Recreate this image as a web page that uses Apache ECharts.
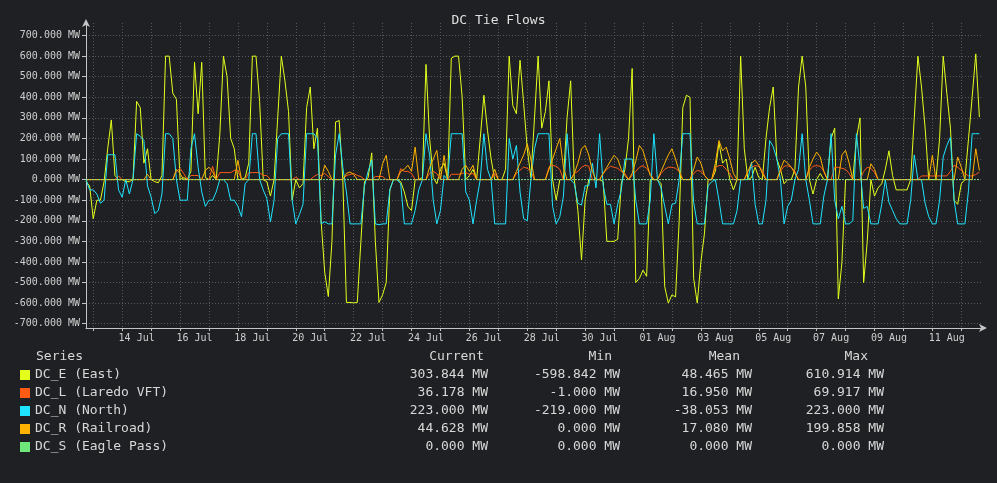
<!DOCTYPE html>
<html>
<head>
<meta charset="utf-8" />
<script src="https://cdn.jsdelivr.net/npm/echarts@6/dist/echarts.min.js"></script>
<style>
  html, body { margin: 0; padding: 0; background: #1f2023; }
  #main { width: 997px; height: 483px; }
</style>
</head>
<body>
<div id="main"></div>
<script>
// 3-hour samples from 12 Jul 18:00 to 12 Aug 15:00 (one row per day)
var east = [
  -10, -30,
  -190, -100, -100, -10, 150, 290, 20, 0,
  0, -10, -10, 0, 380, 350, 80, 150,
  0, -10, -15, 20, 600, 600, 420, 390,
  0, 10, 0, 40, 570, 320, 570, 10,
  0, 20, 0, 220, 600, 500, 200, 150,
  0, 0, 10, 80, 600, 600, 380, 0,
  -10, -80, 0, 300, 600, 480, 330, -100,
  0, -40, -20, 350, 450, 150, 250, -200,
  -450, -568, -300, 280, 287, 0, -597, -597,
  -598.842, -597, -300, -10, 10, 130, -300, -597,
  -560, -500, -50, 0, 0, -10, -60, -130,
  -150, 0, 0, 10, 560, 200, 10, -20,
  50, 80, 0, 590, 600, 600, 400, 0,
  20, 50, 0, 200, 410, 240, 100, 0,
  0, 0, 50, 600, 360, 320, 580, 370,
  150, 10, 300, 600, 250, 330, 480, 0,
  -100, 0, 0, 300, 480, 0, -150, -390,
  -100, 0, 0, 0, 0, -10, -300, -300,
  -300, -290, -20, 50, 200, 540, -500, -480,
  -440, -470, 0, 0, 0, -20, -520, -600,
  -560, -570, -200, 350, 410, 400, -480, -600,
  -400, -260, 0, 0, 40, 180, 80, 100,
  0, -50, 0, 600, 150, 0, 10, 60,
  10, 0, 200, 350, 450, 100, 50, -20,
  0, 0, 50, 450, 600, 450, 0, -70,
  0, 30, 0, 0, 200, 250, -580, -400,
  0, 0, 0, 200, 300, -500, -300, 0,
  -80, -40, -20, 50, 140, 20, -50, -50,
  -50, -50, 0, 300, 600, 450, 250, 0,
  0, 0, 200, 600, 420, 250, -100, -120,
  -20, 0, 200, 400, 610.914, 303.844
];
var laredo = [
  -1, 0,
  0, 0, 0, 0, 0, 0, 0, 18,
  0, 0, 0, 0, 0, 0, 0, 0,
  0, 0, 0, 0, 0, 0, 0, 40,
  55, 30, 0, 20, 20, 20, 0, 0,
  0, 65, 0, 34, 34, 34, 34, 45,
  45, 0, 0, 34, 34, 34, 34, 20,
  20, 0, 0, 0, 0, 0, 0, 0,
  12, 0, 0, 0, 0, 15, 25, 20,
  30, 15, 0, 0, 0, 0, 20, 25,
  30, 20, 15, 0, 0, 0, 15, 15,
  15, 0, 0, 0, 0, 53, 40, 40,
  30, 0, 0, 0, 0, 30, 40, 30,
  0, 0, 0, 26, 26, 26, 30, 35,
  25, 30, 0, 0, 0, 0, 0, 30,
  0, 0, 0, 0, 0, 30, 45, 61,
  55, 40, 0, 0, 0, 0, 60, 69,
  65, 50, 0, 0, 0, 30, 40, 60,
  69, 65, 0, 0, 0, 30, 50, 65,
  60, 55, 40, 30, 0, 20, 40, 60,
  68, 55, 30, 0, 0, 30, 50, 60,
  60, 55, 40, 0, 0, 0, 30, 45,
  40, 20, 0, 0, 60, 68, 68, 50,
  30, 0, 0, 0, 0, 40, 60, 68,
  65, 45, 0, 0, 0, 0, 40, 65,
  68, 60, 40, 0, 0, 0, 45, 65,
  68, 65, 40, 0, 0, 60, 60, 55,
  50, 30, 0, 0, 0, 40, 60, 55,
  35, 0, 0, 0, 0, 0, 0, 0,
  0, 0, 0, 0, 0, 18, 18, 18,
  18, 18, 18, 18, 18, 40, 69.917, 60,
  45, 30, 18, 18, 25, 36.178
];
var north = [
  0, -50,
  -50, -70, -115, -100, 121, 121, 121, -50,
  -85, 0, -70, 0, 223, 210, 190, -30,
  -85, -165, -150, -70, 223, 223, 200, 0,
  -100, -100, -100, 150, 223, 60, -60, -130,
  -100, -100, -60, 0, 0, -20, -100, -100,
  -130, -180, -20, 0, 223, 223, 0, -50,
  -92, -205, -100, 200, 223, 223, 223, -100,
  -215, -170, -120, 223, 223, 223, 200, -215,
  -205, -215, -215, 120, 223, 60, -60, -215,
  -215, -215, -215, -30, 40, 95, -215, -219,
  -215, -215, -50, 0, 0, -20, -215, -215,
  -215, -150, -50, 0, 223, 120, -100, -215,
  -150, 20, 0, 223, 223, 223, 223, -60,
  -100, -215, -100, 0, 223, 50, 0, -215,
  -215, -215, -215, 200, 100, 166, -60, -190,
  -200, 0, 150, 223, 223, 223, 223, -130,
  -215, -180, -80, 223, 0, -20, -115, -124,
  -30, -30, 80, -40, 223, -30, -120, -120,
  -215, -120, -50, 100, 100, 100, -100, -215,
  -215, -215, -100, 223, 0, -40, -130, -215,
  -120, -115, 0, 223, 223, 223, -110, -215,
  -215, -215, -30, -10, 0, -100, -215, -215,
  -215, -215, -150, 0, 0, 0, 85, -120,
  -215, -215, -100, 190, 160, 100, 0, -215,
  -130, -100, 0, 50, 223, 0, -100, -215,
  -215, -215, -80, 0, 223, -100, -190, -130,
  -215, -215, -200, 223, 60, -140, -130, -215,
  -215, -215, -120, 0, -110, -150, -190, -215,
  -215, -215, -100, 120, 0, 0, -115, -180,
  -215, -215, -100, 110, 166, 206, -100, -215,
  -215, -215, -50, 223, 223, 223
];
var railroad = [
  0, 0,
  0, 0, 0, 0, 0, 0, 0, 0,
  0, 0, 0, 0, 0, 0, 0, 26,
  0, 0, 0, 0, 0, 0, 0, 50,
  30, 0, 0, 0, 0, 0, 0, 45,
  60, 40, 0, 0, 0, 0, 0, 0,
  94, 0, 0, 0, 0, 0, 0, 0,
  0, 0, 0, 0, 0, 0, 0, 0,
  0, 0, 0, 0, 0, 0, 0, 0,
  70, 40, 0, 0, 0, 0, 30, 37,
  25, 0, 0, 0, 0, 0, 0, 0,
  77, 118, 0, 0, 0, 40, 50, 70,
  40, 158, 0, 0, 0, 60, 100, 142,
  0, 118, 0, 0, 0, 0, 50, 70,
  40, 70, 0, 0, 0, 0, 0, 50,
  0, 0, 0, 0, 0, 40, 80, 120,
  174, 100, 0, 0, 0, 0, 50, 100,
  150, 199.858, 60, 0, 0, 30, 80, 150,
  166, 120, 40, 0, 0, 30, 60, 90,
  118, 100, 50, 20, 0, 30, 90, 166,
  140, 80, 20, 0, 0, 40, 80, 120,
  150, 100, 40, 0, 0, 0, 50, 110,
  80, 20, 0, 0, 80, 190, 140, 158,
  100, 30, 0, 0, 0, 40, 80, 94,
  70, 30, 0, 0, 0, 0, 50, 94,
  80, 60, 30, 0, 0, 0, 60, 100,
  134, 110, 40, 0, 0, 0, 0, 120,
  142, 80, 0, 0, 0, 0, 0, 77,
  50, 0, 0, 0, 0, 0, 0, 0,
  0, 0, 0, 0, 0, 0, 0, 0,
  118, 0, 0, 0, 0, 0, 0, 110,
  60, 0, 0, 0, 150, 44.628
];
var eaglePass = [
  0, 0,
  0, 0, 0, 0, 0, 0, 0, 0,
  0, 0, 0, 0, 0, 0, 0, 0,
  0, 0, 0, 0, 0, 0, 0, 0,
  0, 0, 0, 0, 0, 0, 0, 0,
  0, 0, 0, 0, 0, 0, 0, 0,
  0, 0, 0, 0, 0, 0, 0, 0,
  0, 0, 0, 0, 0, 0, 0, 0,
  0, 0, 0, 0, 0, 0, 0, 0,
  0, 0, 0, 0, 0, 0, 0, 0,
  0, 0, 0, 0, 0, 0, 0, 0,
  0, 0, 0, 0, 0, 0, 0, 0,
  0, 0, 0, 0, 0, 0, 0, 0,
  0, 0, 0, 0, 0, 0, 0, 0,
  0, 0, 0, 0, 0, 0, 0, 0,
  0, 0, 0, 0, 0, 0, 0, 0,
  0, 0, 0, 0, 0, 0, 0, 0,
  0, 0, 0, 0, 0, 0, 0, 0,
  0, 0, 0, 0, 0, 0, 0, 0,
  0, 0, 0, 0, 0, 0, 0, 0,
  0, 0, 0, 0, 0, 0, 0, 0,
  0, 0, 0, 0, 0, 0, 0, 0,
  0, 0, 0, 0, 0, 0, 0, 0,
  0, 0, 0, 0, 0, 0, 0, 0,
  0, 0, 0, 0, 0, 0, 0, 0,
  0, 0, 0, 0, 0, 0, 0, 0,
  0, 0, 0, 0, 0, 0, 0, 0,
  0, 0, 0, 0, 0, 0, 0, 0,
  0, 0, 0, 0, 0, 0, 0, 0,
  0, 0, 0, 0, 0, 0, 0, 0,
  0, 0, 0, 0, 0, 0, 0, 0,
  0, 0, 0, 0, 0, 0
];

var seriesNames = ['DC_E (East)', 'DC_L (Laredo VFT)', 'DC_N (North)', 'DC_R (Railroad)', 'DC_S (Eagle Pass)'];
var seriesColors = ['#e4ff1c', '#ff5a14', '#1ee4ff', '#ffb300', '#6ee87a'];
var columnHeads = ['Series', 'Current', 'Min', 'Mean', 'Max'];
var currentVals = ['303.844 MW', '36.178 MW', '223.000 MW', '44.628 MW', '0.000 MW'];
var minVals = ['-598.842 MW', '-1.000 MW', '-219.000 MW', '0.000 MW', '0.000 MW'];
var meanVals = ['48.465 MW', '16.950 MW', '-38.053 MW', '17.080 MW', '0.000 MW'];
var maxVals = ['610.914 MW', '69.917 MW', '223.000 MW', '199.858 MW', '0.000 MW'];
var xTickDays = ['14 Jul', '16 Jul', '18 Jul', '20 Jul', '22 Jul', '24 Jul', '26 Jul', '28 Jul',
  '30 Jul', '01 Aug', '03 Aug', '05 Aug', '07 Aug', '09 Aug', '11 Aug'];

var startMs = Date.UTC(2025, 6, 12, 18);
var stepMs = 3 * 3600 * 1000;
var monthNames = ['Jan', 'Feb', 'Mar', 'Apr', 'May', 'Jun', 'Jul', 'Aug', 'Sep', 'Oct', 'Nov', 'Dec'];

function pad2(n) {
  return n < 10 ? '0' + n : '' + n;
}

// one category per 3 h step, plus the closing edge at 12 Aug 18:00
var categories = [];
for (var i = 0; i <= east.length; i++) {
  var d = new Date(startMs + i * stepMs);
  categories.push(pad2(d.getUTCDate()) + ' ' + monthNames[d.getUTCMonth()] + ' ' + pad2(d.getUTCHours()) + ':00');
}

var FONT = 'DejaVu Sans Mono';
var allData = [east, laredo, north, railroad, eaglePass];

var chart = echarts.init(document.getElementById('main'), null, { renderer: 'canvas' });

var headX = [36, 484, 612, 740, 868];

function richCol(width, align) {
  return { width: width, align: align, color: '#d8d8d8', fontFamily: FONT, fontSize: 13, lineHeight: 18 };
}

chart.setOption({
  backgroundColor: '#1f2023',
  animation: false,
  title: {
    text: 'DC Tie Flows',
    left: 'center',
    top: 9,
    textStyle: { color: '#e0e0e0', fontFamily: FONT, fontSize: 13, fontWeight: 'normal' }
  },
  grid: { left: 86, right: 14, top: 23, bottom: 155, containLabel: false },
  legend: {
    orient: 'vertical',
    left: 20,
    top: 366,
    padding: 0,
    itemGap: 0,
    itemWidth: 10,
    itemHeight: 10,
    icon: 'rect',
    selectedMode: false,
    data: seriesNames,
    formatter: function (name) {
      var k = seriesNames.indexOf(name);
      return '{n|' + name + '}{c|' + currentVals[k] + '}{m|' + minVals[k] + '}{a|' + meanVals[k] + '}{x|' + maxVals[k] + '}';
    },
    textStyle: {
      color: '#d8d8d8',
      fontFamily: FONT,
      fontSize: 13,
      lineHeight: 18,
      rich: {
        n: richCol(341, 'left'),
        c: richCol(112, 'right'),
        m: richCol(132, 'right'),
        a: richCol(132, 'right'),
        x: richCol(132, 'right')
      }
    }
  },
  graphic: columnHeads.map(function (h, k) {
    return {
      type: 'text',
      x: headX[k],
      y: 357,
      style: {
        text: h,
        fill: '#d8d8d8',
        font: '13px "' + FONT + '"',
        textAlign: k === 0 ? 'left' : 'right',
        textVerticalAlign: 'middle'
      }
    };
  }),
  xAxis: {
    type: 'category',
    data: categories,
    boundaryGap: false,
    axisLine: {
      onZero: false,
      lineStyle: { color: '#c4c4c4', width: 1 },
      symbol: ['none', 'arrow'],
      symbolSize: [6, 8],
      symbolOffset: [0, 4]
    },
    axisTick: {
      show: true,
      length: 3,
      lineStyle: { color: '#c4c4c4' },
      interval: function (idx, value) { return value.slice(7) === '00:00'; }
    },
    axisLabel: {
      color: '#cfcfcf',
      fontFamily: FONT,
      fontSize: 10,
      margin: 5,
      interval: function (idx, value) {
        return value.slice(7) === '12:00' && xTickDays.indexOf(value.slice(0, 6)) >= 0;
      },
      formatter: function (value) { return value.slice(0, 6); }
    },
    splitLine: {
      show: true,
      interval: function (idx, value) { return value.slice(7) === '00:00'; },
      lineStyle: { color: '#555759', type: [1, 2], width: 1 }
    }
  },
  yAxis: {
    type: 'value',
    min: -721,
    max: 761,
    splitNumber: 15,
    axisLine: {
      show: true,
      lineStyle: { color: '#c4c4c4', width: 1 },
      symbol: ['none', 'arrow'],
      symbolSize: [6, 8],
      symbolOffset: [0, 4]
    },
    axisTick: { show: true, length: 4, lineStyle: { color: '#c4c4c4' } },
    axisLabel: {
      color: '#cfcfcf',
      fontFamily: FONT,
      fontSize: 10,
      margin: 6,
      showMinLabel: false,
      showMaxLabel: false,
      formatter: function (v) { return v.toFixed(3) + ' MW'; }
    },
    splitLine: {
      show: true,
      showMinLine: false,
      showMaxLine: false,
      lineStyle: { color: '#555759', type: [1, 2], width: 1 }
    }
  },
  series: seriesNames.map(function (name, k) {
    var isZeroSeries = k === 4;
    return {
      name: name,
      type: 'line',
      data: allData[k],
      showSymbol: false,
      symbol: 'none',
      color: seriesColors[k],
      lineStyle: {
        color: isZeroSeries ? '#86de8c' : seriesColors[k],
        width: 1,
        type: isZeroSeries ? [2, 1] : 'solid'
      },
      emphasis: { disabled: true },
      z: 2 + k
    };
  })
});
</script>
</body>
</html>
